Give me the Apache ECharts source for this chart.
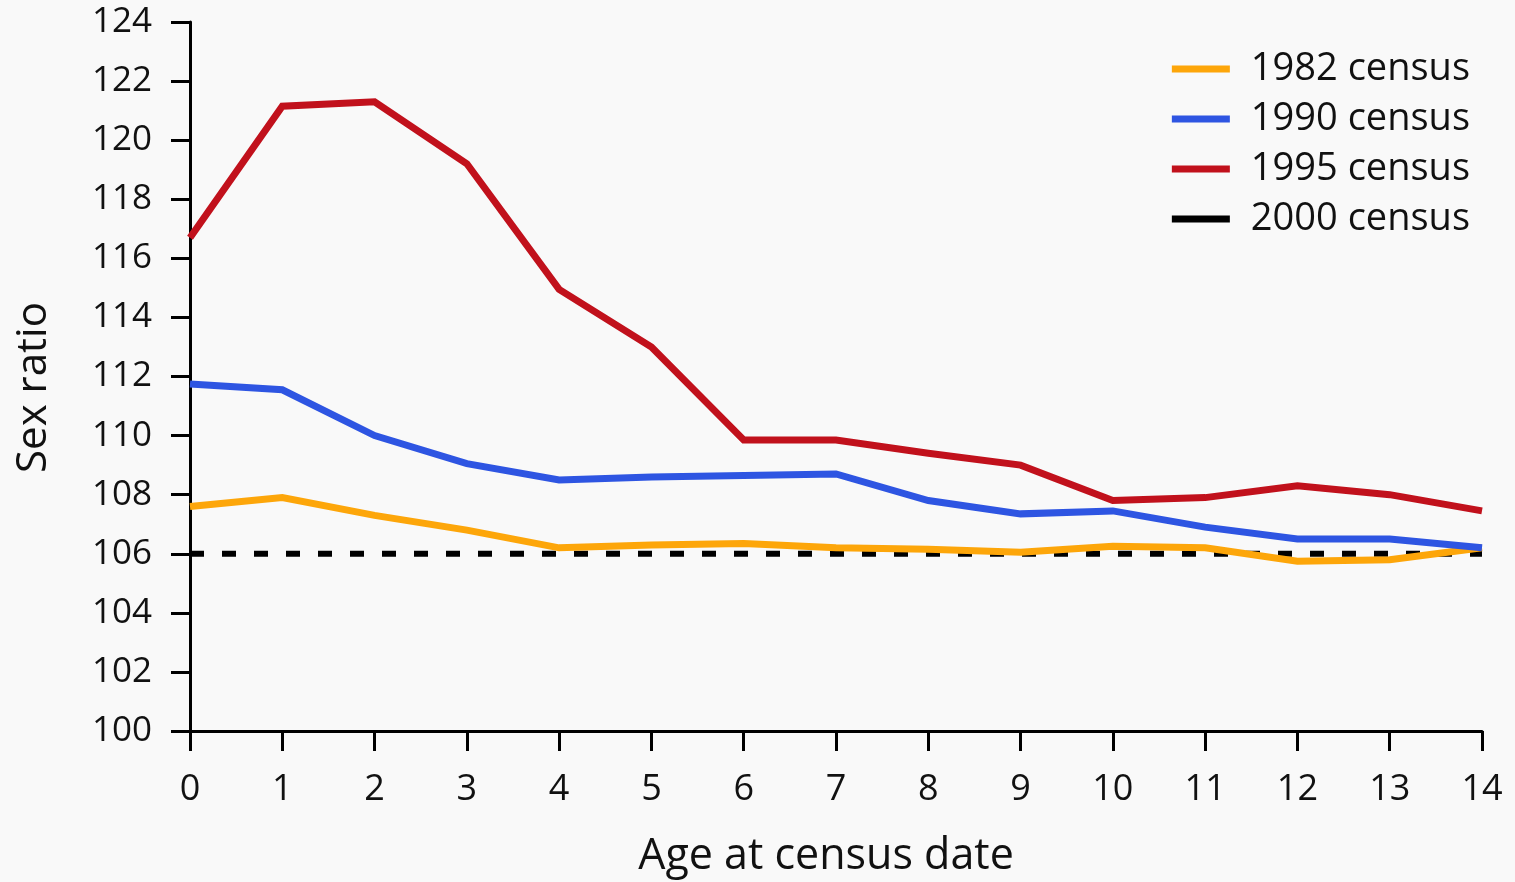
<!DOCTYPE html>
<html>
<head>
<meta charset="utf-8">
<script src="https://cdn.jsdelivr.net/npm/echarts@6/dist/echarts.min.js"></script>
<style>
  html, body { margin: 0; padding: 0; background: #f9f9f9; }
  #chart { width: 1515px; height: 882px; }
</style>
</head>
<body>
<div id="chart"></div>
<script>
// Age at census date (years)
const ages = ['0','1','2','3','4','5','6','7','8','9','10','11','12','13','14'];

// Sex ratio (boys per 100 girls) by age, per census
const census1982 = [107.6, 107.9, 107.3, 106.8, 106.2, 106.3, 106.35, 106.2, 106.15, 106.05, 106.25, 106.2, 105.75, 105.8, 106.2];
const census1990 = [111.75, 111.55, 110.0, 109.05, 108.5, 108.6, 108.65, 108.7, 107.8, 107.35, 107.45, 106.9, 106.5, 106.5, 106.2];
const census1995 = [116.7, 121.15, 121.3, 119.2, 114.95, 113.0, 109.85, 109.85, 109.4, 109.0, 107.8, 107.9, 108.3, 108.0, 107.45];
const census2000 = [106, 106, 106, 106, 106, 106, 106, 106, 106, 106, 106, 106, 106, 106, 106];

const seriesNames = ['1982 census', '1990 census', '1995 census', '2000 census'];

const textFont = '"Open Sans", "Noto Sans", sans-serif';
const chart = echarts.init(document.getElementById('chart'), null, { renderer: 'canvas' });

function lineSeries(name, data, color, extra) {
  return Object.assign({
    name: name,
    type: 'line',
    data: data,
    symbol: 'none',
    smooth: false,
    lineStyle: { color: color, width: 7, join: 'miter' },
    itemStyle: { color: color },
    emphasis: { disabled: true },
    animation: false
  }, extra || {});
}

chart.setOption({
  backgroundColor: '#f9f9f9',
  grid: { left: 190, right: 33, top: 22, bottom: 151, containLabel: false, outerBoundsMode: 'none' },
  legend: {
    data: seriesNames,
    orient: 'vertical',
    right: 40,
    top: 45,
    icon: 'rect',
    itemWidth: 58,
    itemHeight: 7,
    itemGap: 12,
    textStyle: { fontFamily: textFont, fontSize: 38, color: '#111', padding: [0, 0, 0, 16] },
    selectedMode: false
  },
  xAxis: {
    type: 'category',
    data: ages,
    boundaryGap: false,
    name: 'Age at census date',
    nameLocation: 'middle',
    nameGap: 104,
    nameTextStyle: { fontFamily: textFont, fontSize: 43, color: '#111', padding: [0, 20, 0, 0] },
    axisLine: { lineStyle: { color: '#000', width: 3 } },
    axisTick: { show: true, alignWithLabel: true, length: 20, lineStyle: { color: '#000', width: 3 } },
    axisLabel: { fontFamily: textFont, fontSize: 36, color: '#111', margin: 41 },
    splitLine: { show: false }
  },
  yAxis: {
    type: 'value',
    min: 100,
    max: 124,
    interval: 2,
    name: 'Sex ratio',
    nameLocation: 'middle',
    nameGap: 135,
    nameRotate: 90,
    nameTextStyle: { fontFamily: textFont, fontSize: 42, color: '#111', padding: [0, 22, 0, 0] },
    axisLine: { show: true, lineStyle: { color: '#000', width: 3 } },
    axisTick: { show: true, length: 19, lineStyle: { color: '#000', width: 3 } },
    axisLabel: { fontFamily: textFont, fontSize: 35, color: '#111', margin: 38 },
    splitLine: { show: false }
  },
  series: [
    lineSeries(seriesNames[3], census2000, '#000000', {
      lineStyle: { color: '#000000', width: 6, type: [14, 18] },
      z: 1
    }),
    lineSeries(seriesNames[0], census1982, '#FDA60A', { z: 2 }),
    lineSeries(seriesNames[1], census1990, '#2E55E2', { z: 3 }),
    lineSeries(seriesNames[2], census1995, '#C1111C', { z: 4 })
  ]
});
</script>
</body>
</html>
